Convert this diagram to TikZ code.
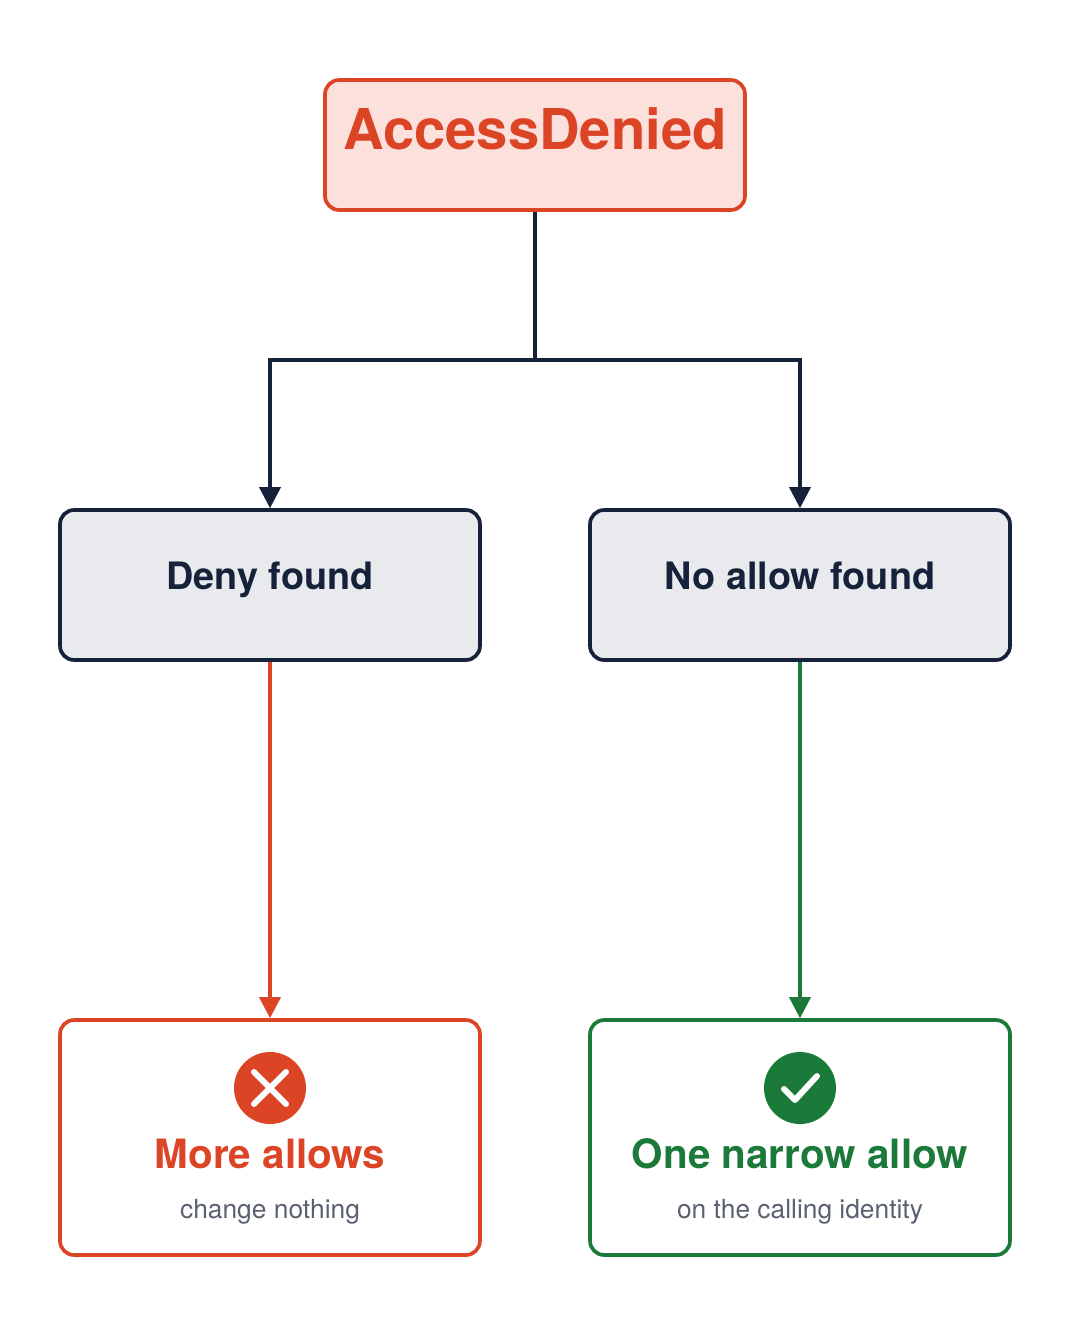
\documentclass[tikz,border=0pt]{standalone}
\usepackage{fontspec}
\setmainfont{TeX Gyre Heros}
\usetikzlibrary{arrows.meta}
\definecolor{red}{HTML}{DC4426}
\definecolor{redbg}{HTML}{FBE0DC}
\definecolor{navy}{HTML}{16213A}
\definecolor{greybg}{HTML}{E8EAEE}
\definecolor{grn}{HTML}{1B7A3A}
\definecolor{sub}{HTML}{5A6270}
\begin{document}
\begin{tikzpicture}[x=0.02cm,y=-0.02cm,
  box/.style={draw,line width=2.1pt,rounded corners=8pt,minimum width=8.4cm,inner sep=0pt,text height=0.72em,text depth=0.2em},
  lbl/.style={text height=0.72em,text depth=0.2em,inner sep=0pt},
  conn/.style={line width=2.1pt,-{Triangle[length=12pt,width=12pt]}}]
\useasboundingbox (0,0) rectangle (1070,1320);
\node[box,draw=red,fill=redbg,minimum height=2.6cm,text=red,font=\fontsize{32}{32}\selectfont\bfseries] (top) at (535,145) {AccessDenied};
\node[box,draw=navy,fill=greybg,minimum height=3cm,text=navy,font=\fontsize{21.5}{21}\selectfont\bfseries] (deny) at (270,585) {Deny found};
\node[box,draw=navy,fill=greybg,minimum height=3cm,text=navy,font=\fontsize{21.5}{21}\selectfont\bfseries] (noallow) at (800,585) {No allow found};
\node[box,draw=red,fill=white,minimum height=4.7cm] (more) at (270,1137.5) {};
\node[box,draw=grn,fill=white,minimum height=4.7cm] (one) at (800,1137.5) {};
\coordinate (j) at (535,360);
\draw[navy,line width=2.1pt] (top.south) -- (j);
\draw[conn,navy] (j) -| (deny.north);
\draw[conn,navy] (j) -| (noallow.north);
\draw[conn,red] (deny.south) -- (more.north);
\draw[conn,grn] (noallow.south) -- (one.north);
% icons
\node[circle,fill=red,minimum size=1.44cm,inner sep=0pt] (xi) at (270,1088) {};
\draw[white,line width=3.4pt,line cap=round] (254,1072) -- (286,1104) (286,1072) -- (254,1104);
\node[circle,fill=grn,minimum size=1.44cm,inner sep=0pt] (ci) at (800,1088) {};
\draw[white,line width=3.4pt,line cap=round,line join=round] (784,1089) -- (795,1100) -- (817,1076);
\node[lbl,text=red,font=\fontsize{23}{23}\selectfont\bfseries] (mt) at (270,1164) {More allows};
\node[lbl,text=sub,font=\fontsize{15}{15}\selectfont] (ms) at (270,1214) {change nothing};
\node[lbl,text=grn,font=\fontsize{23}{23}\selectfont\bfseries] (ot) at (800,1164) {One narrow allow};
\node[lbl,text=sub,font=\fontsize{15}{15}\selectfont] (os) at (800,1214) {on the calling identity};
\end{tikzpicture}
\end{document}
